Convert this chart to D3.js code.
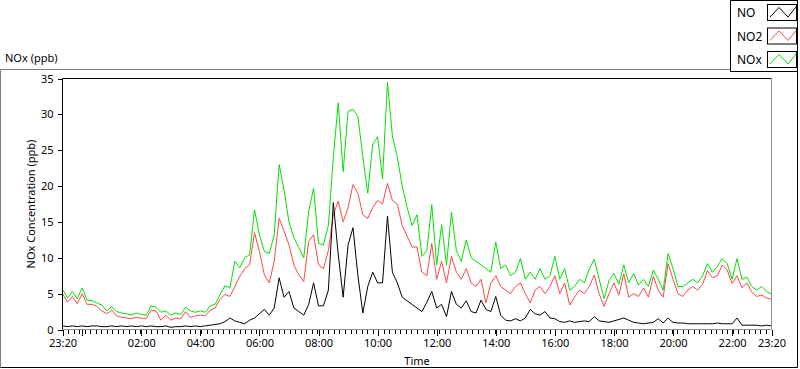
<!DOCTYPE html>
<html>
<head>
<meta charset="utf-8">
<script src="https://cdn.jsdelivr.net/npm/d3@7"></script>
<style>
  body { margin: 0; background: #fff; }
  svg { display: block; font-family: "Noto Sans", sans-serif; }
</style>
</head>
<body>
<div class="container"></div>
<script>
// readings every 10 minutes, 23:20 -> 23:20 next day
const startTime = new Date(2020, 0, 1, 23, 20);
const endTime = new Date(2020, 0, 2, 23, 20);
const stepMinutes = 10;

const seriesNames = ["NO", "NO2", "NOx"];

const noValues = [
  0.5, 0.4, 0.5, 0.4, 0.5, 0.4, 0.5, 0.5, 0.4, 0.4, 0.5, 0.4, 0.5, 0.4, 0.5, 0.4, 0.5, 0.4, 0.5, 0.4,
  0.4, 0.5, 0.3, 0.4, 0.4, 0.5, 0.4, 0.5, 0.4, 0.5, 0.6, 0.7, 0.8, 1.1, 1.6, 1.2, 1.0, 0.8, 1.3, 1.6,
  2.2, 2.8, 2.0, 3.0, 7.2, 4.5, 5.3, 3.0, 2.5, 2.0, 3.5, 6.5, 3.3, 3.3, 5.5, 17.7, 10.5, 4.5, 11.8, 14.2,
  7.5, 2.3, 6.0, 8.0, 6.5, 6.5, 15.8, 8.0, 6.5, 4.5, 4.0, 3.5, 3.0, 2.5, 3.8, 5.3, 3.0, 3.5, 1.8, 5.3,
  3.5, 3.0, 4.0, 2.5, 2.3, 4.1, 2.8, 2.5, 4.6, 2.0, 1.3, 1.2, 1.5, 1.2, 1.6, 2.8, 2.2, 2.0, 2.5, 1.6,
  1.5, 1.1, 1.0, 1.2, 1.0, 1.1, 1.2, 1.1, 1.8, 1.2, 1.1, 1.0, 1.2, 1.4, 1.6, 1.3, 1.0, 0.9, 0.8, 0.9,
  1.0, 1.5, 0.9, 1.6, 1.0, 0.9, 0.9, 0.8, 0.8, 0.8, 0.8, 0.8, 0.8, 0.9, 0.8, 0.8, 0.8, 1.6, 0.6, 0.6,
  0.6, 0.6, 0.5, 0.6, 0.5
];

const no2Values = [
  5.0, 3.8, 4.6, 3.6, 5.0, 3.5, 3.5, 3.2, 2.6, 2.2, 2.7, 1.9, 1.7, 1.6, 1.5, 1.7, 1.6, 1.5, 2.7, 2.6,
  1.3, 2.0, 1.3, 1.6, 1.5, 2.5, 1.7, 1.9, 2.0, 1.9, 2.7, 3.0, 4.2, 4.9, 4.6, 6.0, 7.4, 8.5, 9.0, 13.5,
  10.9, 7.6, 6.5, 9.5, 15.5, 13.7, 11.8, 9.0, 7.6, 6.7, 12.3, 13.2, 9.0, 8.5, 11.0, 16.0, 17.9, 15.0, 17.0, 20.2,
  19.0, 16.0, 15.5, 17.0, 18.0, 17.5, 20.4, 18.0, 17.5, 14.5, 13.0, 11.5, 11.5, 8.0, 7.5, 12.0, 7.0, 9.5, 6.5, 10.2,
  8.0, 7.0, 8.5, 6.5, 6.0, 7.0, 3.7, 6.5, 7.5, 6.0, 5.5, 5.0, 6.0, 6.5, 5.0, 3.7, 5.5, 6.0, 5.0, 6.0,
  7.5, 5.0, 6.5, 3.4, 4.5, 5.5, 5.0, 6.0, 7.6, 5.0, 3.2, 5.0, 6.5, 4.8, 7.8, 4.5, 5.0, 4.6, 5.8, 4.5,
  7.4, 5.5, 4.5, 9.2, 7.0, 5.0, 4.6, 5.5, 6.0, 5.5, 6.3, 8.2, 7.2, 7.5, 9.0, 8.3, 6.4, 7.5, 5.8, 6.5,
  5.2, 4.6, 4.8, 4.4, 4.2
];

const noxValues = [
  5.6, 4.4, 5.3, 4.3, 5.8, 4.1, 4.0, 3.7, 3.4, 2.6, 3.2, 2.5, 2.3, 2.2, 2.0, 2.3, 2.1, 2.0, 3.3, 3.1,
  2.4, 2.6, 2.0, 2.3, 2.1, 3.1, 2.6, 2.4, 2.6, 2.4, 3.3, 3.5, 4.9, 6.1, 5.8, 9.5, 8.6, 10.0, 10.4, 16.7,
  13.2, 10.9, 10.6, 13.2, 23.0, 19.4, 15.0, 12.8, 11.4, 10.0, 16.5, 19.7, 12.0, 11.8, 14.5, 24.0, 31.6, 22.0, 30.4, 30.7,
  29.7, 24.0, 19.0, 25.8, 26.9, 21.0, 34.5, 27.0, 24.0, 20.0, 17.0, 14.5, 16.0, 10.2, 11.0, 17.4, 9.0, 14.6, 9.0, 16.4,
  11.0, 9.5, 12.5, 10.0, 9.5, 9.0, 8.5, 8.0, 12.2, 8.5, 9.0, 7.5, 8.0, 9.9, 7.0, 8.0, 7.0, 8.5, 7.0, 7.5,
  10.2, 7.0, 8.5, 5.5, 6.0, 7.0, 6.5, 8.5, 9.8, 7.0, 4.3, 6.8, 7.8, 6.3, 9.0, 6.5, 7.8, 6.2, 7.0, 6.0,
  8.3, 7.0, 5.5, 10.6, 8.5, 6.0, 6.0, 6.5, 7.0, 6.5, 7.5, 9.2, 8.0, 8.8, 9.9, 9.2, 7.0, 9.9, 7.0, 7.3,
  6.0, 5.5, 6.0, 5.3, 4.9
];

const yTicks = [0, 5, 10, 15, 20, 25, 30, 35];
const xLabelHours = [0, 2, 4, 6, 8, 10, 12, 14, 16, 18, 20, 22];

const colors = { NO: "#000000", NO2: "#ff4646", NOx: "#00e000" };

const width = 800;
const height = 369;
const plot = { left: 62.5, right: 771.5, top: 78.5, bottom: 329.5 };

const svg = d3
  .select(".container")
  .append("svg")
  .attr("width", width)
  .attr("height", height);

// outer panel frame
svg.append("path")
  .attr("d", "M0.5,367.5V69.5H730")
  .attr("fill", "none")
  .attr("stroke", "#808080");
svg.append("path")
  .attr("d", "M0.5,367.5H797.5V72")
  .attr("fill", "none")
  .attr("stroke", "#000");

const x = d3.scaleTime().domain([startTime, endTime]).range([plot.left, plot.right]);
const y = d3.scaleLinear().domain([0, 35]).range([plot.bottom, plot.top]);

const times = noValues.map((d, i) => d3.timeMinute.offset(startTime, i * stepMinutes));

// minor ticks (128 per day)
const minorTicks = d3.range(0, 129).map((k) => new Date(+startTime + k * 11.25 * 60000));
svg.append("g")
  .attr("transform", `translate(0,${plot.bottom})`)
  .call(d3.axisBottom(x).tickValues(minorTicks).tickSize(4).tickFormat(""))
  .call((g) => g.select(".domain").remove())
  .call((g) => g.selectAll("line").attr("shape-rendering", "crispEdges"));

// major ticks + labels
const majorTicks = [startTime]
  .concat(xLabelHours.map((h) => new Date(2020, 0, 2, h, 0)))
  .concat([endTime]);
const fmt = d3.timeFormat("%H:%M");
svg.append("g")
  .attr("transform", `translate(0,${plot.bottom})`)
  .call(
    d3.axisBottom(x)
      .tickValues(majorTicks)
      .tickSize(6)
      .tickPadding(4)
      .tickFormat((d) => (d.getHours() === 0 ? "" : fmt(d)))
  )
  .call((g) => g.select(".domain").remove())
  .call((g) => g.selectAll("line").attr("shape-rendering", "crispEdges"))
  .call((g) => g.selectAll("text").attr("font-family", "Noto Sans").attr("font-size", 11).attr("fill", "#000"));

// y axis
svg.append("g")
  .attr("transform", `translate(${plot.left},0)`)
  .call(d3.axisLeft(y).tickValues(yTicks).tickSize(5).tickPadding(4))
  .call((g) => g.select(".domain").remove())
  .call((g) => g.selectAll("line").attr("shape-rendering", "crispEdges"))
  .call((g) => g.selectAll("text").attr("font-family", "Noto Sans").attr("font-size", 11).attr("fill", "#000"));

// clip for the traces
svg.append("defs")
  .append("clipPath")
  .attr("id", "plot-clip")
  .append("rect")
  .attr("x", plot.left)
  .attr("y", plot.top)
  .attr("width", plot.right - plot.left)
  .attr("height", plot.bottom - plot.top);

const line = (vals) =>
  d3.line()
    .x((d, i) => x(times[i]))
    .y((d) => y(d))(vals);

const traces = svg.append("g").attr("clip-path", "url(#plot-clip)");
[
  ["NOx", noxValues],
  ["NO2", no2Values],
  ["NO", noValues],
].forEach(([name, vals]) => {
  traces.append("path")
    .attr("d", line(vals))
    .attr("fill", "none")
    .attr("stroke", colors[name])
    .attr("stroke-width", 1);
});

// plot frame: dark top/left, grey right/bottom
svg.append("path")
  .attr("d", `M${plot.left},${plot.bottom}V${plot.top}H${plot.right}`)
  .attr("fill", "none")
  .attr("stroke", "#000");
svg.append("path")
  .attr("d", `M${plot.left},${plot.bottom}H${plot.right}V${plot.top}`)
  .attr("fill", "none")
  .attr("stroke", "#909090");

// titles
svg.append("text")
  .attr("x", 5)
  .attr("y", 62)
  .attr("font-size", 11)
  .text("NOx (ppb)");

svg.append("text")
  .attr("transform", `translate(35,${(plot.top + plot.bottom) / 2}) rotate(-90)`)
  .attr("text-anchor", "middle")
  .attr("font-size", 11)
  .text("NOx Concentration (ppb)");

svg.append("text")
  .attr("x", (plot.left + plot.right) / 2)
  .attr("y", 365)
  .attr("text-anchor", "middle")
  .attr("font-size", 11)
  .text("Time");

// legend
const legend = svg.append("g");
legend.append("rect")
  .attr("x", 730.5)
  .attr("y", 0.5)
  .attr("width", 67)
  .attr("height", 71)
  .attr("fill", "#fff")
  .attr("stroke", "#000");

const rows = legend
  .selectAll("g")
  .data(seriesNames)
  .join("g")
  .attr("transform", (d, i) => `translate(0,${i * 23.5})`);

rows.append("text")
  .attr("x", 737)
  .attr("y", 17)
  .attr("font-size", 12)
  .text((d) => d);

rows.append("rect")
  .attr("x", 767.5)
  .attr("y", 4.5)
  .attr("width", 29)
  .attr("height", 16)
  .attr("fill", "#fff")
  .attr("stroke", "#000");

rows.append("path")
  .attr("d", "M770,17L779,7.5L788,17L796,7")
  .attr("fill", "none")
  .attr("stroke", (d) => colors[d]);
</script>
</body>
</html>
